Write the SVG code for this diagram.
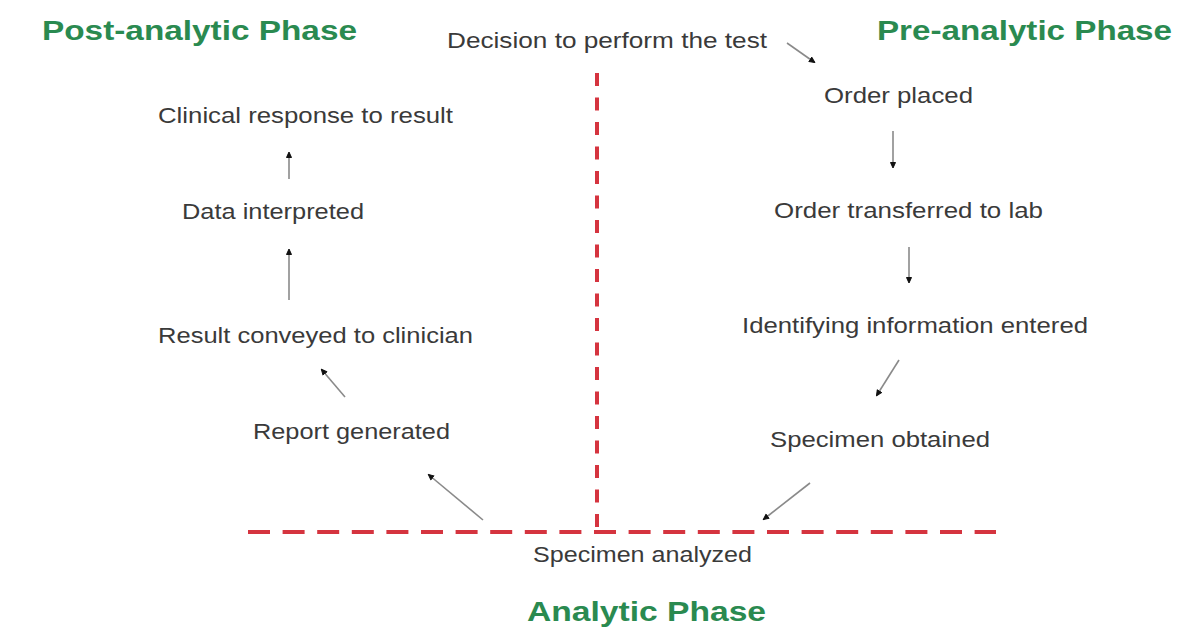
<svg xmlns="http://www.w3.org/2000/svg" width="1187" height="628" viewBox="0 0 1187 628">
  <style>
    .phase { font-family: "Liberation Sans", Arial, sans-serif; font-weight: bold; font-size: 27px; fill: #2a8a50; }
    .step { font-family: "Liberation Sans", Arial, sans-serif; font-size: 22px; fill: #3a3a3a; }
    .divider { stroke: #d5343f; stroke-width: 4; fill: none; }
    .conn { stroke: #8a8a8a; stroke-width: 1.6; fill: none; marker-end: url(#dot); }
  </style>
  <defs>
    <marker id="dot" markerUnits="userSpaceOnUse" markerWidth="8" markerHeight="8" refX="5" refY="4" orient="auto">
      <path d="M0.5,1.5 L6,4 L0.5,6.5 Z" fill="#111" stroke="#111" stroke-width="1" stroke-linejoin="round"/>
    </marker>
  </defs>
  <rect width="1187" height="628" fill="#ffffff"/>

  <g id="dividers">
    <line class="divider" x1="597" y1="73" x2="597" y2="532" stroke-dasharray="13 11.5"/>
    <line class="divider" x1="248" y1="532" x2="996" y2="532" stroke-dasharray="22 12.6"/>
  </g>

  <g id="titles">
    <text id="post-analytic" class="phase" x="42" y="40" textLength="315" lengthAdjust="spacingAndGlyphs">Post-analytic Phase</text>
    <text id="pre-analytic" class="phase" x="877" y="40" textLength="295" lengthAdjust="spacingAndGlyphs">Pre-analytic Phase</text>
    <text id="analytic" class="phase" x="527" y="621" style="font-size:28px" textLength="239" lengthAdjust="spacingAndGlyphs">Analytic Phase</text>
  </g>

  <g id="n-decision"><text class="step" x="447" y="48" textLength="320" lengthAdjust="spacingAndGlyphs">Decision to perform the test</text></g>
  <g id="n-order-placed"><text class="step" x="824" y="103" textLength="149" lengthAdjust="spacingAndGlyphs">Order placed</text></g>
  <g id="n-order-transferred"><text class="step" x="774" y="218" textLength="269" lengthAdjust="spacingAndGlyphs">Order transferred to lab</text></g>
  <g id="n-identifying"><text class="step" x="742" y="333" textLength="346" lengthAdjust="spacingAndGlyphs">Identifying information entered</text></g>
  <g id="n-specimen-obtained"><text class="step" x="770" y="447" textLength="220" lengthAdjust="spacingAndGlyphs">Specimen obtained</text></g>
  <g id="n-specimen-analyzed"><text class="step" x="533" y="562" textLength="219" lengthAdjust="spacingAndGlyphs">Specimen analyzed</text></g>
  <g id="n-report"><text class="step" x="253" y="439" textLength="197" lengthAdjust="spacingAndGlyphs">Report generated</text></g>
  <g id="n-result"><text class="step" x="158" y="343" textLength="315" lengthAdjust="spacingAndGlyphs">Result conveyed to clinician</text></g>
  <g id="n-data"><text class="step" x="182" y="219" textLength="182" lengthAdjust="spacingAndGlyphs">Data interpreted</text></g>
  <g id="n-clinical"><text class="step" x="158" y="123" textLength="295" lengthAdjust="spacingAndGlyphs">Clinical response to result</text></g>

  <g id="connectors">
    <line class="conn" x1="787" y1="43" x2="814" y2="62"/>
    <line class="conn" x1="893" y1="131" x2="893" y2="167"/>
    <line class="conn" x1="909" y1="247" x2="909" y2="282"/>
    <line class="conn" x1="899" y1="360" x2="877" y2="395"/>
    <line class="conn" x1="810" y1="483" x2="764" y2="519"/>
    <line class="conn" x1="483" y1="520" x2="429" y2="475"/>
    <line class="conn" x1="345" y1="397" x2="322" y2="370"/>
    <line class="conn" x1="289" y1="300" x2="289" y2="250"/>
    <line class="conn" x1="289" y1="179" x2="289" y2="153"/>
  </g>
</svg>
